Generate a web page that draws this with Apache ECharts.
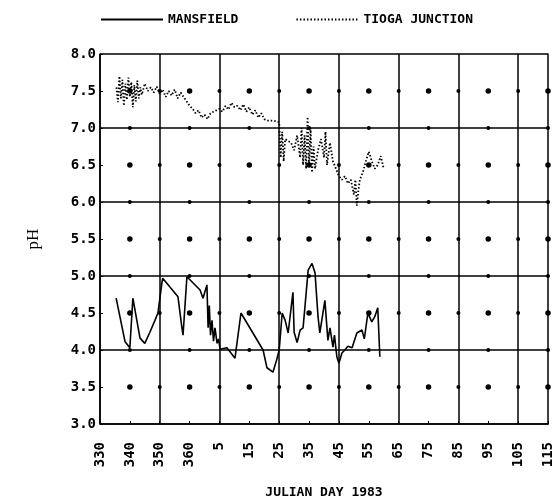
<!DOCTYPE html>
<html><head><meta charset="utf-8">
<script src="https://cdn.jsdelivr.net/npm/echarts@6/dist/echarts.min.js"></script>
<style>html,body{margin:0;padding:0;background:#fff}#c{width:557px;height:504px}</style>
</head><body><div id="c"></div>
<script>
// x = days since Julian day 330 of 1982 (tick labels wrap into 1983)
const xTickLabels = ['330','340','350','360','5','15','25','35','45','55','65','75','85','95','105','115'];
const yTickLabels = ['3.0','3.5','4.0','4.5','5.0','5.5','6.0','6.5','7.0','7.5','8.0'];

const mansfieldDays = [5.4,8.4,10,10.7,11,13.4,15,16.7,18.4,19.4,20.7,21,26.1,27.4,27.8,29.1,33.5,34.5,35.8,36.2,36.6,37,37.5,38,38.5,39.2,39.7,40.2,42.5,45.2,47.2,54.6,55.9,57.9,59.1,60,61,62,63,64.6,65,66,67,68,69.7,71,72,73,73.6,75.3,76.3,77,78,78.5,79.3,80,81,82,83,84.4,86,87.7,88.5,89.7,91,92,93,93.7];
const mansfieldPH = [4.70,4.11,4.03,4.5,4.70,4.16,4.09,4.24,4.4,4.5,4.9,4.97,4.72,4.31,4.2,4.99,4.81,4.7,4.88,4.3,4.6,4.2,4.4,4.12,4.3,4.09,4.15,4.01,4.03,3.89,4.5,4.0,3.76,3.70,3.86,4.0,4.5,4.4,4.23,4.78,4.24,4.1,4.27,4.3,5.08,5.17,5.04,4.45,4.23,4.67,4.13,4.3,4.04,4.2,3.91,3.82,3.96,4.0,4.05,4.03,4.23,4.27,4.15,4.5,4.38,4.45,4.57,3.91];

const tiogaDays = [5.5,6,6.5,7,7.5,8,8.5,9,9.5,10,10.5,11,11.5,12,12.5,13,13.5,14,15,16,17,18,19,20,21,22,23,24,25,26,27,28,29,30,31,32,33,34,35,36,37,38,40,41,42,43,44,45,46,47,48,49,50,51,52,53,54,55,56,58,60,60.5,61,61.5,62,64,65,66,67,67.5,68,68.5,69,69.5,70,70.5,71,71.5,72,73,74,75,75.5,76,77,78,79,80,81,82,83,84,85,85.5,86,86.5,87,88,89,90,91,92,93,94,95];
const tiogaPH = [7.55,7.35,7.7,7.4,7.65,7.3,7.6,7.38,7.68,7.42,7.62,7.28,7.58,7.36,7.64,7.4,7.55,7.45,7.6,7.5,7.55,7.48,7.56,7.46,7.52,7.42,7.5,7.44,7.52,7.4,7.48,7.42,7.36,7.3,7.26,7.2,7.24,7.14,7.18,7.12,7.2,7.22,7.26,7.22,7.3,7.25,7.34,7.28,7.3,7.24,7.32,7.22,7.28,7.18,7.24,7.14,7.2,7.12,7.1,7.1,7.08,6.6,6.95,6.55,6.85,6.8,6.7,6.9,6.6,7.0,6.5,6.9,6.45,7.15,6.5,7.0,6.4,6.75,6.45,6.7,6.85,6.6,6.95,6.5,6.8,6.55,6.45,6.35,6.3,6.35,6.25,6.3,6.1,6.3,5.95,6.15,6.3,6.4,6.55,6.68,6.55,6.45,6.5,6.62,6.45];

const FONT = '"DejaVu Sans Mono", monospace';
const zip = (a, b) => a.map((v, i) => [v, b[i]]);

// grid decoration dots at tick intersections
const dots = [];
for (let xi = 1; xi < xTickLabels.length; xi++) {
  for (let yi = 1; yi < yTickLabels.length - 1; yi++) {
    const onV = xi % 2 === 0, onH = yi % 2 === 0;
    if (onV && onH) continue;
    dots.push({value: [xi * 10, 3 + yi * 0.5], symbolSize: (!onV && !onH) ? 5.5 : 4});
  }
}

const chart = echarts.init(document.getElementById('c'));
chart.setOption({
  animation: false,
  backgroundColor: '#fff',
  legend: {
    top: 8, left: 95,
    itemWidth: 62, itemHeight: 10, itemGap: 57,
    itemStyle: {color: 'rgba(0,0,0,0)', borderColor: 'rgba(0,0,0,0)', borderWidth: 0},
    textStyle: {fontFamily: FONT, fontSize: 13, fontWeight: 'bold', color: '#000'},
    data: ['MANSFIELD', 'TIOGA JUNCTION']
  },
  grid: {left: 100, right: 9, top: 54, bottom: 80},
  xAxis: {
    type: 'value', min: 0, max: 150, interval: 10,
    name: 'JULIAN DAY 1983', nameLocation: 'middle', nameGap: 62,
    nameTextStyle: {fontFamily: FONT, fontSize: 13, fontWeight: 'bold', color: '#000'},
    axisLine: {lineStyle: {color: '#000', width: 1.5}},
    axisTick: {show: true, inside: true, length: 3, lineStyle: {color: '#000'}},
    axisLabel: {show: false},
    splitLine: {show: true, lineStyle: {color: ['#000', 'rgba(0,0,0,0)'], width: 1.5}}
  },
  yAxis: [{
    type: 'value', min: 3, max: 8, interval: 0.5,
    name: 'pH', nameLocation: 'middle', nameGap: 58,
    nameTextStyle: {fontFamily: '"Liberation Serif", serif', fontSize: 17, color: '#000'},
    axisLine: {show: true, lineStyle: {color: '#000', width: 1.5}},
    axisTick: {show: true, length: 3, inside: true, lineStyle: {color: '#000'}},
    axisLabel: {
      margin: 4, color: '#000', fontFamily: FONT, fontSize: 14, fontWeight: 'bold',
      formatter: v => yTickLabels[Math.round((v - 3) * 2)]
    },
    splitLine: {show: true, lineStyle: {color: ['#000', 'rgba(0,0,0,0)'], width: 1.5}}
  }, {
    type: 'value', min: 3, max: 8, interval: 0.5, position: 'right',
    axisLine: {show: true, lineStyle: {color: '#000', width: 1.5}},
    axisTick: {show: false}, axisLabel: {show: false}, splitLine: {show: false}
  }],
  series: [{
    type: 'scatter', silent: true, symbol: 'circle',
    itemStyle: {color: '#000', opacity: 1}, data: dots, z: 1
  }, {
    name: 'MANSFIELD', type: 'line', symbol: 'none',
    lineStyle: {color: '#000', width: 1.6, type: 'solid'},
    itemStyle: {color: '#000'},
    data: zip(mansfieldDays, mansfieldPH), z: 3
  }, {
    name: 'TIOGA JUNCTION', type: 'line', symbol: 'none',
    lineStyle: {color: '#000', width: 1.8, type: [1.5, 2]},
    itemStyle: {color: '#000'},
    data: zip(tiogaDays, tiogaPH), z: 3
  }]
});

// rotated x tick labels (reading bottom-to-top), placed through the axis scale
const labelEls = xTickLabels.map((t, i) => {
  const p = chart.convertToPixel({xAxisIndex: 0, yAxisIndex: 0}, [i * 10, 3]);
  return {
    type: 'text', x: p[0], y: p[1] + 18, rotation: Math.PI / 2, silent: true,
    style: {text: t, fill: '#000', font: 'bold 14px "DejaVu Sans Mono", monospace',
            align: 'right', verticalAlign: 'middle'}
  };
});
chart.setOption({graphic: {elements: labelEls}});
</script></body></html>
